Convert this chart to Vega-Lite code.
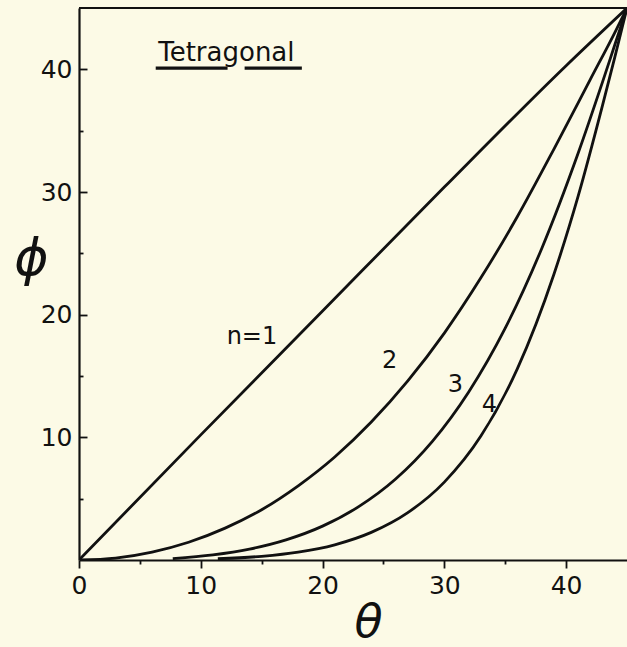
{
  "$schema": "https://vega.github.io/schema/vega-lite/v6.json",
  "width": 548,
  "height": 552,
  "autosize": "none",
  "padding": {"left": 79, "top": 8, "right": 0, "bottom": 87},
  "background": "#fcfae6",
  "config": {
    "view": {"stroke": null},
    "axis": {
      "domainColor": "#111111",
      "domainWidth": 2.2,
      "tickColor": "#111111",
      "tickWidth": 1.8,
      "grid": false,
      "labelColor": "#111111",
      "titleFont": "DejaVu Sans",
      "titleFontStyle": "italic",
      "titleFontWeight": "normal",
      "titleColor": "#111111"
    }
  },
  "datasets": {
    "curves": [
      {"n": 1, "theta": 0, "phi": 0},
      {"n": 1, "theta": 10, "phi": 10.2},
      {"n": 1, "theta": 20, "phi": 20.3},
      {"n": 1, "theta": 30, "phi": 30.4},
      {"n": 1, "theta": 40, "phi": 40.3},
      {"n": 1, "theta": 45, "phi": 45},
      {"n": 2, "theta": 0, "phi": 0},
      {"n": 2, "theta": 3, "phi": 0.16},
      {"n": 2, "theta": 6, "phi": 0.65},
      {"n": 2, "theta": 9, "phi": 1.45},
      {"n": 2, "theta": 12, "phi": 2.6},
      {"n": 2, "theta": 15, "phi": 4.1},
      {"n": 2, "theta": 18, "phi": 6.05},
      {"n": 2, "theta": 21, "phi": 8.4},
      {"n": 2, "theta": 24, "phi": 11.25},
      {"n": 2, "theta": 27, "phi": 14.6},
      {"n": 2, "theta": 30, "phi": 18.5},
      {"n": 2, "theta": 33, "phi": 23.0},
      {"n": 2, "theta": 36, "phi": 28.0},
      {"n": 2, "theta": 39, "phi": 33.5},
      {"n": 2, "theta": 42, "phi": 39.2},
      {"n": 2, "theta": 44, "phi": 43.0},
      {"n": 2, "theta": 45, "phi": 45},
      {"n": 3, "theta": 7.7, "phi": 0.12},
      {"n": 3, "theta": 11, "phi": 0.42},
      {"n": 3, "theta": 14, "phi": 0.89},
      {"n": 3, "theta": 17, "phi": 1.64},
      {"n": 3, "theta": 20, "phi": 2.76},
      {"n": 3, "theta": 23, "phi": 4.37},
      {"n": 3, "theta": 26, "phi": 6.6},
      {"n": 3, "theta": 29, "phi": 9.65},
      {"n": 3, "theta": 32, "phi": 13.7},
      {"n": 3, "theta": 35, "phi": 18.9},
      {"n": 3, "theta": 38, "phi": 25.4},
      {"n": 3, "theta": 41, "phi": 33.2},
      {"n": 3, "theta": 43, "phi": 39.0},
      {"n": 3, "theta": 44, "phi": 42.0},
      {"n": 3, "theta": 45, "phi": 45},
      {"n": 4, "theta": 11.4, "phi": 0.1},
      {"n": 4, "theta": 15, "phi": 0.3},
      {"n": 4, "theta": 18, "phi": 0.64},
      {"n": 4, "theta": 21, "phi": 1.24},
      {"n": 4, "theta": 24, "phi": 2.25},
      {"n": 4, "theta": 27, "phi": 3.86},
      {"n": 4, "theta": 30, "phi": 6.35},
      {"n": 4, "theta": 33, "phi": 10.1},
      {"n": 4, "theta": 36, "phi": 15.6},
      {"n": 4, "theta": 39, "phi": 23.3},
      {"n": 4, "theta": 41, "phi": 29.7},
      {"n": 4, "theta": 43, "phi": 37.1},
      {"n": 4, "theta": 44, "phi": 41.0},
      {"n": 4, "theta": 45, "phi": 45}
    ],
    "labels": [
      {"text": "n=1", "theta": 14.2, "phi": 18.2},
      {"text": "2", "theta": 25.5, "phi": 16.2},
      {"text": "3", "theta": 30.9, "phi": 14.3},
      {"text": "4", "theta": 33.7, "phi": 12.6}
    ],
    "title": [
      {"text": "Tetragonal", "theta": 12.1, "phi": 40.7}
    ],
    "underline": [
      {"theta": 6.3, "theta2": 12.2, "phi": 40.1},
      {"theta": 13.6, "theta2": 18.3, "phi": 40.1}
    ],
    "border": [
      {"phi": 45}
    ]
  },
  "encoding": {
    "x": {
      "field": "theta",
      "type": "quantitative",
      "scale": {"domain": [0, 45], "nice": false, "zero": false},
      "axis": {
        "title": "θ",
        "titleFontSize": 46,
        "titleX": 289,
        "titleY": 62,
        "titleBaseline": "middle",
        "titleAlign": "center",
        "values": [0, 5, 10, 15, 20, 25, 30, 35, 40],
        "labelExpr": "datum.value % 10 === 0 ? datum.label : ''",
        "labelFont": "DejaVu Sans",
        "labelFontSize": 25,
        "labelColor": "#111111",
        "tickSize": {"condition": {"test": "datum.value % 10 === 0", "value": 8}, "value": 4},
        "labelPadding": 5,
        "labelFlush": false
      }
    },
    "y": {
      "field": "phi",
      "type": "quantitative",
      "scale": {"domain": [0, 45], "nice": false, "zero": false},
      "axis": {
        "title": "ϕ",
        "titleFontSize": 52,
        "titleAngle": 0,
        "titleX": -48,
        "titleY": 250,
        "titleBaseline": "middle",
        "titleAlign": "center",
        "values": [5, 10, 15, 20, 25, 30, 35, 40],
        "labelExpr": "datum.value % 10 === 0 ? datum.label : ''",
        "labelFont": "DejaVu Sans",
        "labelFontSize": 25,
        "labelColor": "#111111",
        "tickSize": {"condition": {"test": "datum.value % 10 === 0", "value": -8}, "value": -4},
        "labelPadding": 15,
        "labelFlush": false
      }
    }
  },
  "layer": [
    {
      "data": {"name": "curves"},
      "mark": {"type": "line", "color": "#111111", "strokeWidth": 2.8, "interpolate": "monotone", "clip": true},
      "encoding": {"detail": {"field": "n", "type": "nominal"}}
    },
    {
      "data": {"name": "border"},
      "mark": {"type": "rule", "color": "#111111", "strokeWidth": 2.2},
      "encoding": {"y": {"field": "phi", "type": "quantitative"}, "x": null}
    },
    {
      "data": {"name": "labels"},
      "mark": {"type": "text", "font": "DejaVu Sans", "fontSize": 24, "color": "#111111", "align": "center", "baseline": "middle"},
      "encoding": {"text": {"field": "text"}}
    },
    {
      "data": {"name": "title"},
      "mark": {"type": "text", "font": "DejaVu Sans", "fontSize": 26, "color": "#111111", "align": "center", "baseline": "alphabetic"},
      "encoding": {"text": {"field": "text"}}
    },
    {
      "data": {"name": "underline"},
      "mark": {"type": "rule", "color": "#111111", "strokeWidth": 3.2},
      "encoding": {"x2": {"field": "theta2"}}
    }
  ]
}
